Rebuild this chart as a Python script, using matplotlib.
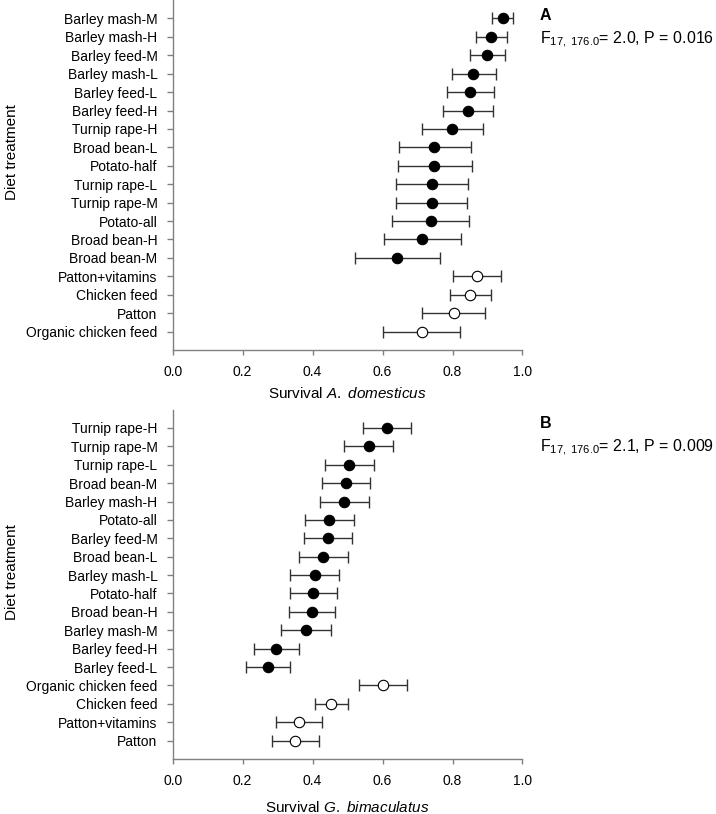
import numpy as np
import matplotlib
matplotlib.use("Agg")
import matplotlib.pyplot as plt

plt.rcParams['font.family'] = ['Liberation Sans', 'DejaVu Sans']
plt.rcParams['mathtext.fontset'] = 'custom'
plt.rcParams['mathtext.rm'] = 'Liberation Sans'
plt.rcParams['mathtext.it'] = 'Liberation Sans:italic'
plt.rcParams['mathtext.default'] = 'regular'

# Panel A: A. domesticus
diets_a = ["Barley mash-M", "Barley mash-H", "Barley feed-M", "Barley mash-L",
           "Barley feed-L", "Barley feed-H", "Turnip rape-H", "Broad bean-L",
           "Potato-half", "Turnip rape-L", "Turnip rape-M", "Potato-all",
           "Broad bean-H", "Broad bean-M", "Patton+vitamins", "Chicken feed",
           "Patton", "Organic chicken feed"]
mean_a = [0.943, 0.911, 0.900, 0.860, 0.851, 0.844, 0.799, 0.748, 0.747,
          0.742, 0.740, 0.738, 0.713, 0.641, 0.870, 0.851, 0.803, 0.712]
low_a = [0.912, 0.867, 0.850, 0.798, 0.784, 0.774, 0.712, 0.648, 0.643,
         0.639, 0.637, 0.626, 0.603, 0.520, 0.801, 0.794, 0.712, 0.601]
high_a = [0.972, 0.957, 0.950, 0.925, 0.919, 0.915, 0.888, 0.852, 0.855,
          0.844, 0.842, 0.848, 0.825, 0.764, 0.938, 0.911, 0.894, 0.822]
open_a = [False] * 14 + [True] * 4

# Panel B: G. bimaculatus
diets_b = ["Turnip rape-H", "Turnip rape-M", "Turnip rape-L", "Broad bean-M",
           "Barley mash-H", "Potato-all", "Barley feed-M", "Broad bean-L",
           "Barley mash-L", "Potato-half", "Broad bean-H", "Barley mash-M",
           "Barley feed-H", "Barley feed-L", "Organic chicken feed",
           "Chicken feed", "Patton+vitamins", "Patton"]
mean_b = [0.613, 0.562, 0.505, 0.496, 0.491, 0.448, 0.444, 0.431, 0.406,
          0.401, 0.398, 0.381, 0.296, 0.272, 0.601, 0.453, 0.361, 0.349]
low_b = [0.545, 0.491, 0.436, 0.426, 0.420, 0.377, 0.374, 0.362, 0.336,
         0.334, 0.332, 0.311, 0.233, 0.209, 0.533, 0.408, 0.296, 0.283]
high_b = [0.681, 0.631, 0.576, 0.565, 0.562, 0.518, 0.514, 0.500, 0.476,
          0.469, 0.465, 0.454, 0.360, 0.336, 0.669, 0.500, 0.426, 0.417]
open_b = [False] * 14 + [True] * 4

xticks = [0.0, 0.2, 0.4, 0.6, 0.8, 1.0]

fig = plt.figure(figsize=(7.16, 8.14), dpi=100)
ax_a = fig.add_axes([0.2412, 0.570, 0.4885, 0.430])
ax_b = fig.add_axes([0.2412, 0.0676, 0.4885, 0.4292])

spine_col = '#808080'


def draw_panel(ax, diets, mean, low, high, is_open):
    y = np.arange(len(diets))
    mean = np.array(mean)
    err = [mean - np.array(low), np.array(high) - mean]
    ax.errorbar(mean, y, xerr=err, fmt='none', ecolor='#333333',
                elinewidth=1.0, capsize=4, capthick=1.0, zorder=2)
    for xi, yi, op in zip(mean, y, is_open):
        ax.plot(xi, yi, 'o', ms=7.5, mfc='white' if op else 'black',
                mec='black', mew=0.8, zorder=3)
    ax.set_ylim(len(diets), -1)
    ax.set_xlim(0, 1.0)
    ax.set_yticks(y)
    ax.set_yticklabels(diets, fontsize=10)
    ax.set_xticks(xticks)
    ax.set_xticklabels([f"{t:.1f}" for t in xticks], fontsize=10)
    for s in ['top', 'right']:
        ax.spines[s].set_visible(False)
    for s in ['left', 'bottom']:
        ax.spines[s].set_color(spine_col)
        ax.spines[s].set_linewidth(1.0)
    ax.tick_params(axis='y', direction='out', length=4, width=1.0,
                   color=spine_col, pad=7)
    ax.tick_params(axis='x', direction='out', length=3.5, width=1.0,
                   color=spine_col, pad=7)
    ax.set_ylabel("Diet treatment", fontsize=11)


draw_panel(ax_a, diets_a, mean_a, low_a, high_a, open_a)
draw_panel(ax_b, diets_b, mean_b, low_b, high_b, open_b)
ax_a.yaxis.set_label_coords(-0.44, 0.566)
ax_b.yaxis.set_label_coords(-0.44, 0.536)

ax_a.set_xlabel("Survival $\\it{A.\\ domesticus}$", fontsize=11, labelpad=5)
ax_b.set_xlabel("Survival $\\it{G.\\ bimaculatus}$", fontsize=11, labelpad=9)

fig.text(540 / 716, 1 - 15 / 814, "A", fontsize=11.5, fontweight='bold', va='center')
fig.text(540 / 716, 1 - 40 / 814, r"F$_{17,\ 176.0}$= 2.0, P = 0.016",
         fontsize=11.5, va='center')
fig.text(540 / 716, 1 - 423 / 814, "B", fontsize=11.5, fontweight='bold', va='center')
fig.text(540 / 716, 1 - 448 / 814, r"F$_{17,\ 176.0}$= 2.1, P = 0.009",
         fontsize=11.5, va='center')

fig.savefig("out.png", dpi=100)
